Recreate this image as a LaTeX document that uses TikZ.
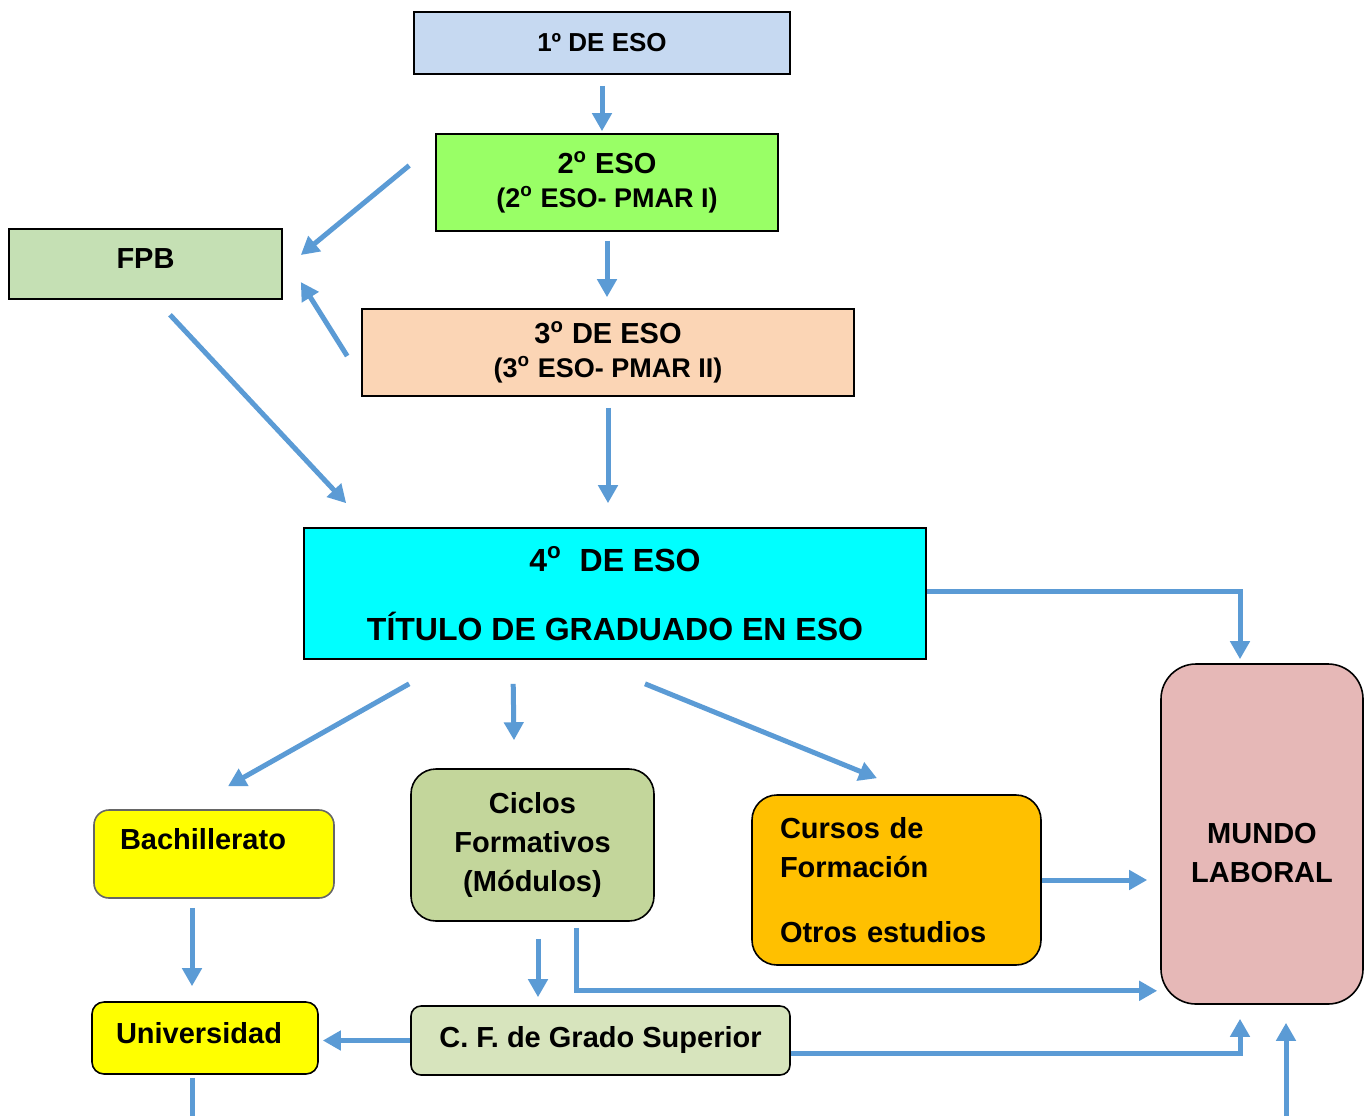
\documentclass[tikz,border=0pt]{standalone}
\usepackage{fontspec}
\setmainfont{Liberation Sans}
\usepackage{tikz}
\usetikzlibrary{calc}
\usetikzlibrary{arrows.meta}

\definecolor{azulclaro}{HTML}{C6D9F1}
\definecolor{verdeeso}{HTML}{99FF66}
\definecolor{salmon}{HTML}{FBD5B5}
\definecolor{verdefpb}{HTML}{C5E0B4}
\definecolor{cian}{HTML}{00FFFF}
\definecolor{rosa}{HTML}{E6B8B7}
\definecolor{amarillo}{HTML}{FFFF00}
\definecolor{verdeciclos}{HTML}{C3D69B}
\definecolor{naranja}{HTML}{FFC000}
\definecolor{verdeclaro}{HTML}{D7E4BD}
\definecolor{azulflecha}{HTML}{5B9BD5}

\tikzset{
  caja/.style={draw=black, line width=0.8pt, inner sep=0pt, align=center,
    font=\bfseries\fontsize{14.5}{17}\selectfont},
  redonda/.style={caja, rounded corners=#1},
  flecha/.style={draw=azulflecha, line width=2.5pt, -{Triangle[length=9pt,width=9.5pt]}},
}

\begin{document}
\begin{tikzpicture}[x=0.5pt,y=-0.5pt]
        \useasboundingbox (0,0) rectangle (1371,1115);
        % cursos de la ESO
        \node[caja, fill=azulclaro, minimum width=188pt, minimum height=31pt, font=\bfseries\fontsize{13}{15}\selectfont] (eso1) at (602,43) {1º DE ESO};
        \node[caja, fill=verdeeso, minimum width=171pt, minimum height=48.5pt] (eso2) at (607,182.5) {2\textsuperscript{o} ESO\\{\fontsize{13.5}{15.5}\selectfont (2\textsuperscript{o} ESO- PMAR I)}};
        \node[caja, fill=salmon, minimum width=246pt, minimum height=43.5pt] (eso3) at (608,352.5) {3\textsuperscript{o} DE ESO\\{\fontsize{13.5}{15.5}\selectfont (3\textsuperscript{o} ESO- PMAR II)}};
        \node[caja, fill=verdefpb, minimum width=136.5pt, minimum height=35pt, text height=11pt, text depth=6.6pt] (fpb) at (145.5,264) {FPB};
        \node[caja, fill=cian, minimum width=311pt, minimum height=65.5pt, font=\bfseries\fontsize{16}{19}\selectfont] (eso4) at (615,593.5) {4\textsuperscript{o}\ \ DE ESO\\[15.5pt]TÍTULO DE GRADUADO EN ESO};
        % salidas
        \node[redonda=17.5pt, fill=rosa, minimum width=101pt, minimum height=170pt, font=\bfseries\fontsize{14.5}{19.5}\selectfont] (mundo) at (1262,834) {\rule{0pt}{29pt}MUNDO\\LABORAL};
        \node[redonda=7.5pt, draw=black!60, fill=amarillo, minimum width=120pt, minimum height=44pt, text width=94pt, align=left, text height=11pt, text depth=15.6pt] (bach) at (214,854) {Bachillerato};
        \node[redonda=12.5pt, fill=verdeciclos, minimum width=121.5pt, minimum height=76pt, font=\bfseries\fontsize{14.5}{19.5}\selectfont] (ciclos) at (532.5,845) {Ciclos\\Formativos\\(Módulos)};
        \node[redonda=12.5pt, fill=naranja, minimum width=144.5pt, minimum height=85pt, text width=116.5pt, align=left, font=\bfseries\fontsize{14.5}{19.5}\selectfont] (cursos) at (896.5,880) {Cursos de\\Formación\\[13pt]Otros estudios};
        \node[redonda=6pt, fill=amarillo, minimum width=113pt, minimum height=36pt, text width=89pt, align=left, text height=11pt, text depth=5.6pt] (univ) at (205,1038) {Universidad};
        \node[redonda=5pt, fill=verdeclaro, minimum width=189.5pt, minimum height=34.5pt, text height=11pt, text depth=4.1pt] (cfgs) at (600.5,1040.5) {C. F. de Grado Superior};
        % flechas
        \draw[flecha, shorten <=5.5pt, shorten >=1pt] (eso1.south) -- (eso1.south |- eso2.north);
        \draw[flecha, shorten <=4.5pt, shorten >=5.5pt] (eso2.south) -- (eso2.south |- eso3.north);
        \draw[flecha, shorten <=5.5pt, shorten >=12pt] (eso3.south) -- (eso3.south |- eso4.north);
        \draw[flecha] ($(eso2.west)+(-26,-17)$) -- ($(fpb.east)+(18,-9)$);
        \draw[flecha] ($(eso3.west)+(-14,3.5)$) -- ($(fpb.east)+(18,18)$);
        \draw[flecha] ($(fpb.south)+(24.5,15)$) -- ($(eso4.north west)+(43,-24)$);
        \draw[flecha] ($(eso4.east)+(0,-2.5)$) -| ($(mundo.north)+(-22,-4)$);
        \draw[flecha] ($(eso4.south west)+(106,24)$) -- ($(bach.north)+(14,-23)$);
        \draw[flecha] ($(eso4.south west)+(210,24)$) -- ($(ciclos.north)+(-18.5,-28)$);
        \draw[flecha] ($(eso4.south)+(30,24)$) -- ($(cursos.north)+(-19.5,-16)$);
        \draw[flecha, shorten >=6.5pt] (cursos.east) -- (cursos.east -| mundo.west);
        \draw[flecha] ($(bach.south)+(-22,9)$) -- ($(univ.north)+(-13,-15)$);
        \draw[flecha] ($(ciclos.south)+(5.5,17)$) -- ($(cfgs.north)+(-62.5,-8)$);
        \draw[flecha] ($(ciclos.south)+(43.5,6)$) |- ($(mundo.south west)+(-3,-14)$);
        \draw[flecha, shorten >=2pt] (cfgs.west) -- (cfgs.west -| univ.east);
        \draw[flecha] ($(cfgs.east)+(0,12.5)$) -| ($(mundo.south)+(-22,14)$);
        \draw[flecha, -] ($(univ.south)+(-13,3)$) -- ($(univ.south)+(-13,45)$);
        \draw[flecha] ($(mundo.south)+(24,115)$) -- ($(mundo.south)+(24,18)$);
\end{tikzpicture}
\end{document}
